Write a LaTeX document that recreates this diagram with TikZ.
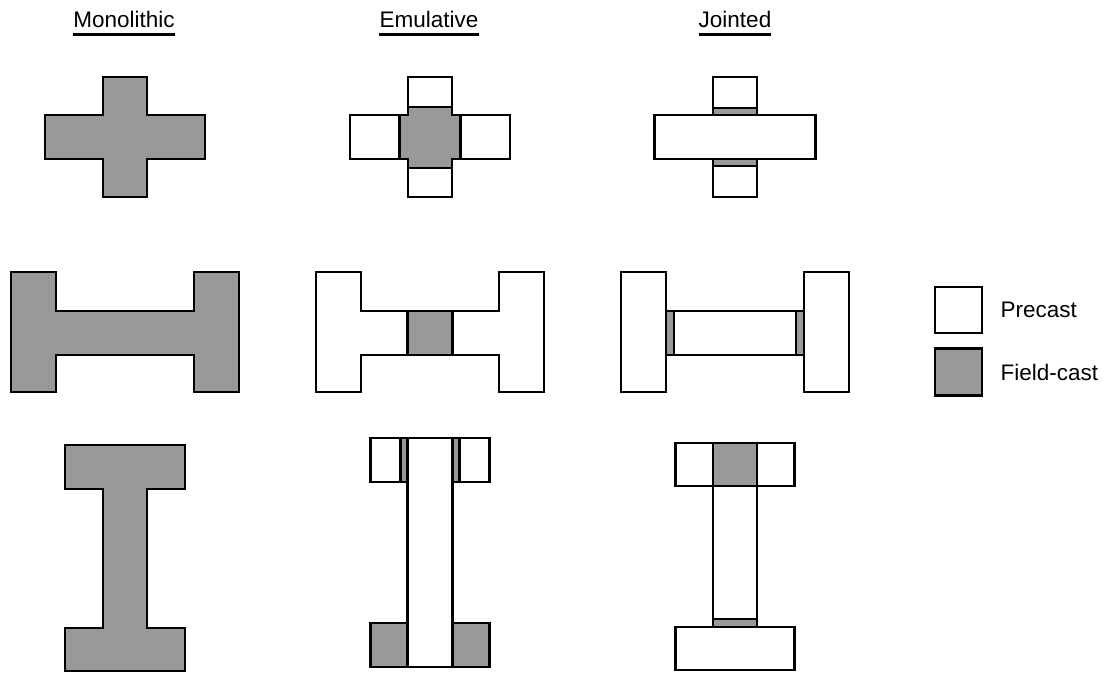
\documentclass[tikz,border=0pt]{standalone}
\usepackage{fontspec}
\setmainfont{Liberation Sans}
\usepackage{tikz}
\usetikzlibrary{positioning}
\definecolor{castgray}{HTML}{999999}

\begin{document}
\begin{tikzpicture}[x=1pt, y=-1pt,
  pre/.style={draw=black,fill=white,line width=2.9pt},
  cast/.style={draw=black,fill=castgray,line width=2.9pt},
  title/.style={font=\fontsize{22.5}{27}\selectfont,inner sep=0pt,anchor=base},
  key/.style={font=\fontsize{22.5}{27}\selectfont,inner sep=0pt}]
  \useasboundingbox (0,0) rectangle (1104,674);
  % titles
  \node[title] (tMono) at (124,28) {Monolithic};
  \node[title] (tEmul) at (429,28) {Emulative};
  \node[title] (tJoint) at (735,28) {Jointed};
  \foreach \t in {tMono,tEmul,tJoint}
    \draw[line width=2.6pt] ([yshift=-6.5pt]\t.base west) -- ([yshift=-6.5pt]\t.base east);
  % monolithic
  \begin{scope}[xshift=125pt]
    \draw[cast] (-80,115) -- (-22,115) -- (-22,77) -- (22,77) -- (22,115) -- (80,115) -- (80,159)
      -- (22,159) -- (22,197) -- (-22,197) -- (-22,159) -- (-80,159) -- cycle;
    \draw[cast] (-114,272) -- (-69,272) -- (-69,311) -- (69,311) -- (69,272) -- (114,272) -- (114,392)
      -- (69,392) -- (69,355) -- (-69,355) -- (-69,392) -- (-114,392) -- cycle;
    \draw[cast] (-60,445) -- (60,445) -- (60,489) -- (22,489) -- (22,628) -- (60,628) -- (60,671)
      -- (-60,671) -- (-60,628) -- (-22,628) -- (-22,489) -- (-60,489) -- cycle;
  \end{scope}
  % emulative
  \begin{scope}[xshift=430pt]
    \draw[cast] (-22,107) -- (22,107) -- (22,115) -- (30.5,115) -- (30.5,159) -- (22,159) -- (22,168)
      -- (-22,168) -- (-22,159) -- (-30.5,159) -- (-30.5,115) -- (-22,115) -- cycle;
    \draw[pre] (-22,77) rectangle (22,107);
    \draw[pre] (-80,115) rectangle (-30.5,159);
    \draw[pre] (30.5,115) rectangle (80,159);
    \draw[pre] (-22,168) rectangle (22,197);
    \draw[pre] (-114,272) -- (-69,272) -- (-69,311) -- (-22.5,311) -- (-22.5,355) -- (-69,355)
      -- (-69,392) -- (-114,392) -- cycle;
    \draw[pre] (114,272) -- (69,272) -- (69,311) -- (22.5,311) -- (22.5,355) -- (69,355)
      -- (69,392) -- (114,392) -- cycle;
    \draw[cast] (-22.5,311) rectangle (22.5,355);
    \draw[pre] (-22.5,438) rectangle (22.5,667);
    \draw[pre] (-59.5,438) rectangle (-29.5,482);
    \draw[cast] (-29.5,438) rectangle (-22.5,482);
    \draw[cast] (22.5,438) rectangle (29.5,482);
    \draw[pre] (29.5,438) rectangle (59.5,482);
    \draw[cast] (-59.5,623) rectangle (-22.5,667);
    \draw[cast] (22.5,623) rectangle (59.5,667);
  \end{scope}
  % jointed
  \begin{scope}[xshift=735pt]
    \draw[pre] (-22,77) rectangle (22,108);
    \draw[cast] (-22,108) rectangle (22,115);
    \draw[pre] (-80.5,115) rectangle (80.5,159);
    \draw[cast] (-22,159) rectangle (22,166);
    \draw[pre] (-22,166) rectangle (22,197);
    \draw[pre] (-114,272) rectangle (-69,392);
    \draw[cast] (-69,311) rectangle (-61,355);
    \draw[pre] (-61,311) rectangle (61,355);
    \draw[cast] (61,311) rectangle (69,355);
    \draw[pre] (69,272) rectangle (114,392);
    \draw[pre] (-59.5,443) rectangle (-22,486);
    \draw[cast] (-22,443) rectangle (22,486);
    \draw[pre] (22,443) rectangle (59.5,486);
    \draw[pre] (-22,486) rectangle (22,619);
    \draw[cast] (-22,619) rectangle (22,627);
    \draw[pre] (-59.5,627) rectangle (59.5,670);
  \end{scope}
  % legend
  \node[pre,minimum width=47pt,minimum height=46pt,inner sep=0pt] (kPre) at (958.5,310) {};
  \node[cast,minimum width=47pt,minimum height=47pt,inner sep=0pt,below=13pt of kPre] (kField) {};
  \node[key,right=17pt of kPre] (lPre) {Precast};
  \node[key,right=17pt of kField] (lField) {Field-cast};
\end{tikzpicture}
\end{document}
